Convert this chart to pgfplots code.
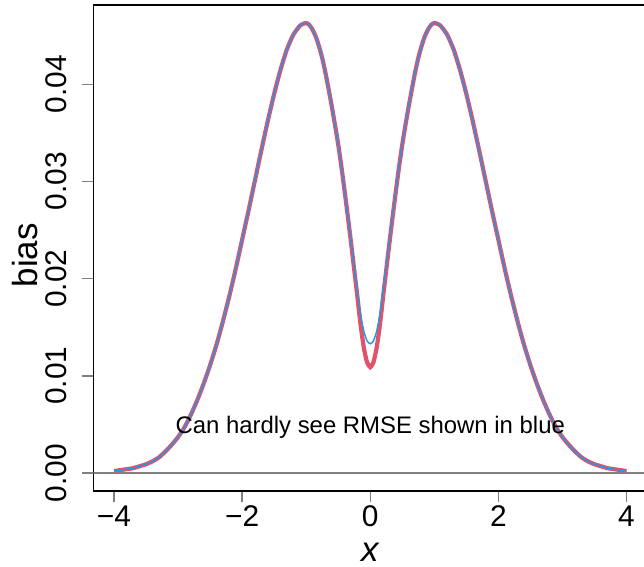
\documentclass[border=0pt]{standalone}
\usepackage{pgfplots}
\usepackage{pgfplotstable}
\pgfplotsset{compat=1.18}
\usepackage{fontspec}
\setmainfont{Liberation Sans}
\definecolor{rred}{HTML}{DF536B}
\definecolor{rblue}{HTML}{2297E6}
\definecolor{tickgray}{HTML}{808080}

\pgfplotstableread{
x bias rmse
-4.00 0.0002 0.0002
-3.90 0.0003 0.0003
-3.80 0.0004 0.0004
-3.70 0.0005 0.0005
-3.60 0.0007 0.0007
-3.50 0.0009 0.0009
-3.40 0.0012 0.0012
-3.30 0.0016 0.0016
-3.20 0.0022 0.0022
-3.10 0.0029 0.0029
-3.00 0.0037 0.0037
-2.90 0.0047 0.0047
-2.80 0.0060 0.0060
-2.70 0.0075 0.0075
-2.60 0.0092 0.0092
-2.50 0.0111 0.0111
-2.40 0.0132 0.0132
-2.30 0.0156 0.0156
-2.20 0.0182 0.0182
-2.10 0.0210 0.0210
-2.00 0.0240 0.0240
-1.90 0.0270 0.0270
-1.80 0.0301 0.0301
-1.70 0.0332 0.0332
-1.60 0.0362 0.0362
-1.50 0.0390 0.0390
-1.40 0.0415 0.0415
-1.30 0.0436 0.0436
-1.20 0.0451 0.0451
-1.10 0.0460 0.0460
-1.05 0.0462 0.0462
-1.00 0.0463 0.0463
-0.95 0.0461 0.0461
-0.90 0.0456 0.0456
-0.85 0.0449 0.0449
-0.80 0.0439 0.0439
-0.75 0.0427 0.0427
-0.70 0.0412 0.0412
-0.65 0.0395 0.0395
-0.60 0.0377 0.0377
-0.55 0.0358 0.0358
-0.50 0.0338 0.0338
-0.45 0.0315 0.0315
-0.40 0.0290 0.0290
-0.35 0.0264 0.0265
-0.30 0.0237 0.0239
-0.25 0.0209 0.0212
-0.20 0.0181 0.0187
-0.15 0.0152 0.0163
-0.10 0.0129 0.0146
-0.05 0.0114 0.0136
0.00 0.0109 0.0133
0.05 0.0114 0.0136
0.10 0.0129 0.0146
0.15 0.0152 0.0163
0.20 0.0181 0.0187
0.25 0.0209 0.0212
0.30 0.0237 0.0239
0.35 0.0264 0.0265
0.40 0.0290 0.0290
0.45 0.0315 0.0315
0.50 0.0338 0.0338
0.55 0.0358 0.0358
0.60 0.0377 0.0377
0.65 0.0395 0.0395
0.70 0.0412 0.0412
0.75 0.0427 0.0427
0.80 0.0439 0.0439
0.85 0.0449 0.0449
0.90 0.0456 0.0456
0.95 0.0461 0.0461
1.00 0.0463 0.0463
1.05 0.0462 0.0462
1.10 0.0460 0.0460
1.20 0.0451 0.0451
1.30 0.0436 0.0436
1.40 0.0415 0.0415
1.50 0.0390 0.0390
1.60 0.0362 0.0362
1.70 0.0332 0.0332
1.80 0.0301 0.0301
1.90 0.0270 0.0270
2.00 0.0240 0.0240
2.10 0.0210 0.0210
2.20 0.0182 0.0182
2.30 0.0156 0.0156
2.40 0.0132 0.0132
2.50 0.0111 0.0111
2.60 0.0092 0.0092
2.70 0.0075 0.0075
2.80 0.0060 0.0060
2.90 0.0047 0.0047
3.00 0.0037 0.0037
3.10 0.0029 0.0029
3.20 0.0022 0.0022
3.30 0.0016 0.0016
3.40 0.0012 0.0012
3.50 0.0009 0.0009
3.60 0.0007 0.0007
3.70 0.0005 0.0005
3.80 0.0004 0.0004
3.90 0.0003 0.0003
4.00 0.0002 0.0002
}\curves

\begin{document}
\begin{tikzpicture}
\begin{axis}[
  at={(0,0)}, anchor=south west,
  scale only axis, width=553.5bp, height=486bp,
  xmin=-4.32, xmax=4.32, ymin=-0.00185, ymax=0.04815,
  axis line style={black, line width=1.4bp},
  xtick={-4,-2,0,2,4}, xticklabels={−4,−2,0,2,4},
  ytick={0,0.01,0.02,0.03,0.04}, yticklabels={0.00,0.01,0.02,0.03,0.04},
  scaled y ticks=false, scaled x ticks=false,
  xtick pos=left, ytick pos=left,
  tick align=outside, major tick length=11bp,
  every tick/.style={tickgray, line width=1.4bp},
  ticklabel style={font=\fontsize{30}{30}\selectfont},
  xticklabel style={anchor=north},
  yticklabel style={rotate=90, anchor=south, yshift=12bp},
  xlabel={\textit{x}}, ylabel={bias},
  every axis x label/.style={at={(axis description cs:0.5,0)}, anchor=center, inner sep=0pt, yshift=-61bp, font=\fontsize{35}{35}\selectfont},
  every axis y label/.style={at={(axis description cs:-0.1229,0.485)}, anchor=center, rotate=90, font=\fontsize{35}{35}\selectfont},
  clip=true,
]
\addplot[tickgray, line width=1.6bp] coordinates {(-4.32,0) (4.32,0)};
\addplot[rred, line width=4.2bp, smooth, tension=0.4] table[x=x, y=bias] {\curves};
\addplot[rblue, line width=1.4bp, smooth, tension=0.4] table[x=x, y=rmse] {\curves};
\node[font=\fontsize{24}{24}\selectfont, anchor=center] at (axis cs:0,0.0047) {Can hardly see RMSE shown in blue};
\end{axis}
\pgfresetboundingbox
\path[use as bounding box] (-93.5bp,-76bp) rectangle (550.5bp,491bp);
\end{tikzpicture}
\end{document}
